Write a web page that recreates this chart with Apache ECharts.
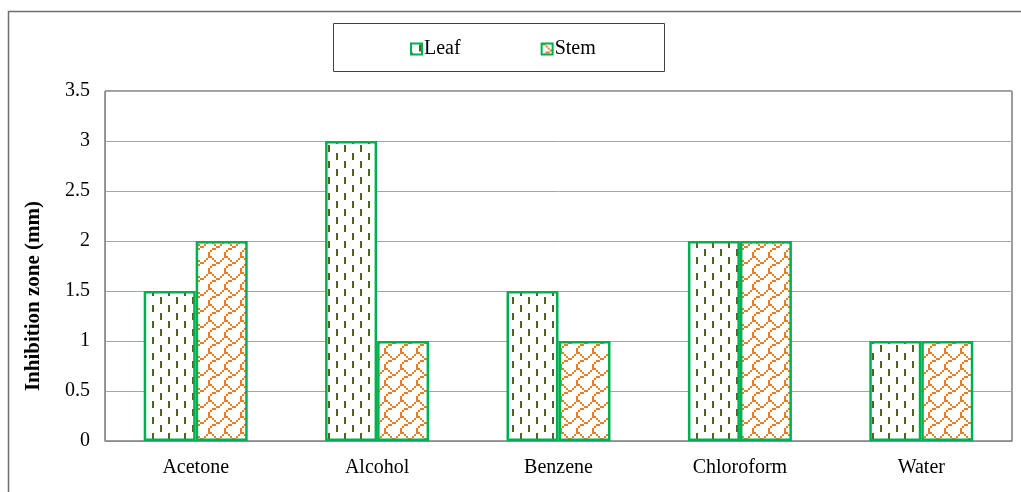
<!DOCTYPE html>
<html>
<head>
<meta charset="utf-8">
<script src="https://cdn.jsdelivr.net/npm/echarts@6/dist/echarts.min.js"></script>
<style>
  html, body { margin: 0; padding: 0; background: #fff; }
  #chart { width: 1021px; height: 492px; }
</style>
</head>
<body>
<div id="chart"></div>
<script>
const categories = ['Acetone', 'Alcohol', 'Benzene', 'Chloroform', 'Water'];
const leafValues = [1.5, 3, 1.5, 2, 1];
const stemValues = [2, 1, 1, 2, 1];
const seriesNames = ['Leaf', 'Stem'];
const yAxisTitle = 'Inhibition zone (mm)';

// Build a repeating tile from an 8x8 bitmap, each bit drawn as a 2x2 block
function bitmapTile(rows, fg) {
  const s = 2;
  const c = document.createElement('canvas');
  c.width = 8 * s; c.height = 8 * s;
  const g = c.getContext('2d');
  g.fillStyle = '#ffffff';
  g.fillRect(0, 0, c.width, c.height);
  g.fillStyle = fg;
  rows.forEach((bits, y) => {
    for (let x = 0; x < 8; x++) {
      if (bits & (0x80 >> x)) g.fillRect(x * s, y * s, s, s);
    }
  });
  return c;
}

// Dashed vertical stripes for the leaf bars
function makeDashPattern() {
  const c = document.createElement('canvas');
  c.width = 16; c.height = 16;
  const g = c.getContext('2d');
  g.fillStyle = '#ffffff';
  g.fillRect(0, 0, 16, 16);
  g.fillStyle = '#4f6228';
  g.fillRect(8, 1, 2, 7);
  g.fillRect(0, 9, 2, 7);
  return c;
}

// Orange shingle pattern for the stem bars
const shingleBits = [0xc0, 0x21, 0x12, 0x0c, 0x30, 0x40, 0x80, 0x80];

const leafFill = { image: makeDashPattern(), repeat: 'repeat' };
const stemFill = { image: bitmapTile(shingleBits, '#ee7b22'), repeat: 'repeat' };

const chart = echarts.init(document.getElementById('chart'));
const serif = '"Liberation Serif", "Times New Roman", serif';

chart.setOption({
  animation: false,
  backgroundColor: '#ffffff',
  textStyle: { fontFamily: serif },
  graphic: [
    {
      type: 'rect',
      shape: { x: 8.5, y: 11.5, width: 1030, height: 500 },
      style: { fill: 'none', stroke: '#6e6e6e', lineWidth: 1.5 },
      silent: true, z: -1
    },
    {
      type: 'rect',
      shape: { x: 333.5, y: 23.5, width: 331, height: 48 },
      style: { fill: '#ffffff', stroke: '#404040', lineWidth: 1 },
      silent: true, z: -1
    }
  ],
  legend: {
    data: seriesNames,
    left: 405,
    top: 34,
    icon: 'rect',
    itemWidth: 11,
    itemHeight: 11,
    itemGap: 80,
    textStyle: { fontFamily: serif, fontSize: 20, color: '#000', padding: [0, 0, 0, -3] }
  },
  grid: {
    left: 105, right: 9, top: 91, bottom: 51,
    show: true, borderColor: '#3a3a3a', borderWidth: 1
  },
  xAxis: {
    type: 'category',
    data: categories,
    axisLine: { lineStyle: { color: '#8c8c8c', width: 1 } },
    axisTick: { show: false },
    axisLabel: { fontFamily: serif, fontSize: 20, color: '#000', margin: 17 }
  },
  yAxis: {
    type: 'value',
    min: 0, max: 3.5, interval: 0.5,
    name: yAxisTitle,
    nameLocation: 'middle',
    nameGap: 61,
    nameRotate: 90,
    nameTextStyle: {
      fontFamily: serif, fontSize: 21, fontWeight: 'bold', color: '#000',
      padding: [0, 60, 0, 0]
    },
    axisLine: { show: true, lineStyle: { color: '#8c8c8c' } },
    axisTick: { show: false },
    axisLabel: { fontFamily: serif, fontSize: 20, color: '#000', margin: 15 },
    splitLine: { lineStyle: { color: '#a6a6a6', width: 1 } }
  },
  series: [
    {
      name: seriesNames[0],
      type: 'bar',
      data: leafValues,
      barWidth: 52,
      barGap: '0%',
      itemStyle: { color: leafFill, borderColor: '#00b050', borderWidth: 2.5 }
    },
    {
      name: seriesNames[1],
      type: 'bar',
      data: stemValues,
      barWidth: 52,
      barGap: '0%',
      itemStyle: { color: stemFill, borderColor: '#00b050', borderWidth: 2.5 }
    }
  ]
});
</script>
</body>
</html>
